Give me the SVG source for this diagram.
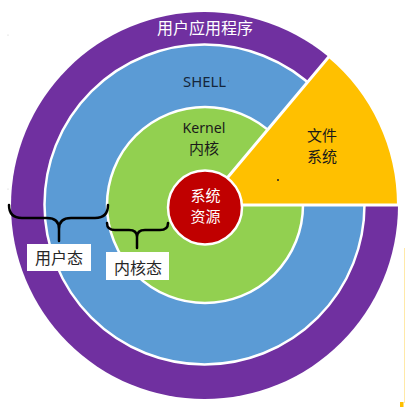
<svg xmlns="http://www.w3.org/2000/svg" width="411" height="407" viewBox="0 0 411 407">
  <style>
    .ring { stroke: #FFFFFF; stroke-width: 2.5; }
    .cjk { font-family: "Noto Sans CJK SC", "Noto Sans", sans-serif; font-size: 16px; text-anchor: middle; }
    .cjk2 { font-family: "Noto Sans CJK SC", "Noto Sans", sans-serif; font-size: 15px; text-anchor: middle; }
    .lat { font-family: "Noto Sans", "Liberation Sans", sans-serif; font-size: 15px; text-anchor: middle; }
    .brace { fill: none; stroke: #000000; stroke-width: 2.5; stroke-linecap: round; stroke-linejoin: round; }
    .label { fill: #FFFFFF; }
  </style>
  <rect width="411" height="407" fill="#FFFFFF"/>

  <g id="app">
    <circle cx="204.5" cy="205.5" r="193.5" fill="#7030A0"/>
    <text class="cjk" x="205" y="34" fill="#FFFFFF">用户应用程序</text>
  </g>

  <g id="shell">
    <circle class="ring" cx="204.5" cy="204.5" r="160" fill="#5B9BD5"/>
    <text class="lat" x="204.5" y="87" fill="#15263A" textLength="43" lengthAdjust="spacingAndGlyphs">SHELL</text>
    <circle cx="228.5" cy="81" r="0.7" fill="#6A7A8A"/>
  </g>

  <g id="kernel">
    <circle class="ring" cx="205" cy="205" r="98" fill="#92D050"/>
    <text class="lat" x="204" y="133" fill="#1A1A1A" textLength="43" lengthAdjust="spacingAndGlyphs">Kernel</text>
    <text class="cjk2" x="204" y="154" fill="#1A1A1A">内核</text>
  </g>

  <g id="filesystem">
    <path d="M 204.5 205 L 398.5 205 A 194 194 0 0 0 329.2 56.4 Z" fill="#FFC000" stroke="#FFFFFF" stroke-width="3" stroke-linejoin="miter"/>
    <text class="cjk2" x="322" y="141" fill="#1A1A1A">文件</text>
    <text class="cjk2" x="322" y="162" fill="#1A1A1A">系统</text>
    <circle cx="278" cy="180" r="1" fill="#222222"/>
  </g>

  <g id="resources">
    <circle cx="205" cy="207.5" r="37" fill="#C00000" stroke="#FFFFFF" stroke-width="2.5"/>
    <text class="cjk2" x="205.5" y="201" fill="#FFFFFF">系统</text>
    <text class="cjk2" x="205.5" y="222" fill="#FFFFFF">资源</text>
  </g>

  <g id="connectors">
    <path class="brace" d="M 9 205 Q 9 218 22 218 L 47 218 Q 59 218 59 229 L 59 241 M 59 229 Q 59 218 71 218 L 95 218 Q 108 218 108 205"/>
    <path class="brace" d="M 107 223 Q 107 230 115 230 L 129 230 Q 137 230 137 237 L 137 248 M 137 237 Q 137 230 145 230 L 160 230 Q 168 230 168 223"/>
  </g>

  <g id="user-mode">
    <rect class="label" x="27" y="244" width="64" height="27"/>
    <text class="cjk" x="59" y="264" fill="#262626">用户态</text>
  </g>

  <g id="kernel-mode">
    <rect class="label" x="106" y="252" width="63" height="28"/>
    <text class="cjk" x="138" y="274" fill="#262626">内核态</text>
  </g>

  <g id="artifacts">
    <line x1="404.5" y1="248" x2="404.5" y2="403" stroke="#FFE9A8" stroke-width="1"/>
    <rect x="400" y="402" width="3.5" height="5" fill="#FFC000"/>
    <circle cx="8" cy="35" r="0.6" fill="#CCCCCC"/>
    <circle cx="8" cy="189" r="0.6" fill="#CCCCCC"/>
  </g>
</svg>
